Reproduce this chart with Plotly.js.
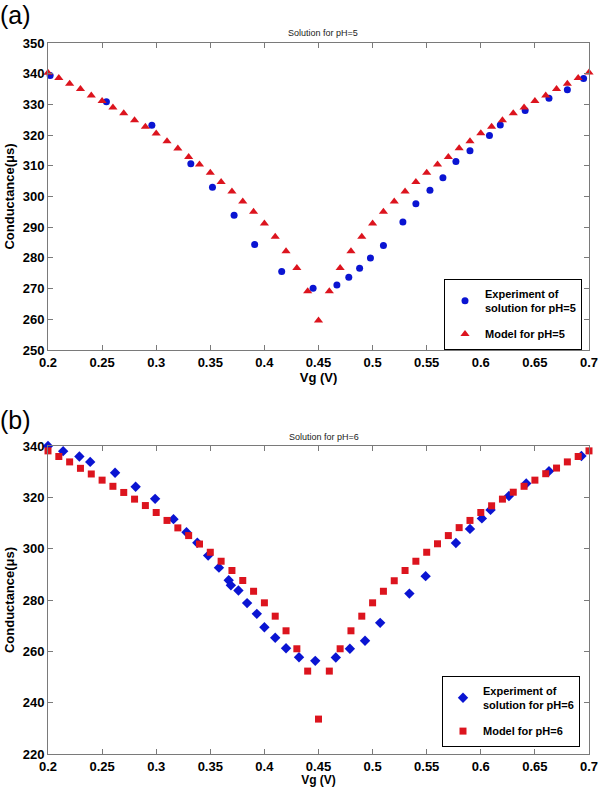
<!DOCTYPE html>
<html>
<head>
<meta charset="utf-8">
<script src="https://cdn.plot.ly/plotly-3.0.1.min.js"></script>
<style>html,body{margin:0;padding:0;background:#fff;}#chart{width:600px;height:787px;}</style>
</head>
<body>
<div id="chart"></div>
<script>
// ---- Panel (a): pH = 5 ----
const modelX = [0.20,0.21,0.22,0.23,0.24,0.25,0.26,0.27,0.28,0.29,0.30,0.31,0.32,0.33,0.34,0.35,0.36,0.37,0.38,0.39,0.40,0.41,0.42,0.43,0.44,0.45,0.46,0.47,0.48,0.49,0.50,0.51,0.52,0.53,0.54,0.55,0.56,0.57,0.58,0.59,0.60,0.61,0.62,0.63,0.64,0.65,0.66,0.67,0.68,0.69,0.70];
const model5Y = [340.3,338.6,336.7,335.0,332.9,331.1,329.0,327.1,324.8,322.7,320.5,318.0,315.6,312.9,310.4,307.7,304.7,301.6,298.4,295.0,291.2,286.9,282.2,276.7,269.1,259.6,269.1,276.7,282.2,286.9,291.2,295.0,298.4,301.6,304.7,307.7,310.4,312.9,315.7,318.0,320.6,322.7,324.8,327.1,329.0,331.1,332.9,335.0,336.7,338.6,340.4];
const exp5X = [0.202,0.254,0.296,0.332,0.352,0.372,0.391,0.416,0.445,0.467,0.478,0.488,0.498,0.510,0.528,0.540,0.553,0.565,0.577,0.590,0.608,0.618,0.641,0.663,0.680,0.695];
const exp5Y = [339.4,330.9,323.2,310.7,303.0,293.9,284.4,275.6,270.1,271.2,273.7,276.6,280.0,284.0,291.7,297.6,302.0,306.1,311.4,314.9,319.9,323.3,328.0,332.0,334.8,338.4];

// ---- Panel (b): pH = 6 ----
const model6Y = [338.1,335.9,333.8,331.3,329.1,326.7,324.3,321.9,319.3,316.8,314.1,311.0,308.1,305.1,301.8,298.6,295.1,291.5,287.6,283.4,278.9,273.7,268.0,261.0,252.3,233.6,252.3,261.0,268.0,273.7,278.9,283.4,287.5,291.5,295.1,298.6,301.9,305.1,308.2,311.0,314.1,316.7,319.3,322.0,324.3,326.7,329.2,331.4,333.8,335.9,338.1];
const exp6X = [0.200,0.214,0.229,0.239,0.262,0.281,0.299,0.316,0.328,0.338,0.348,0.358,0.367,0.369,0.376,0.384,0.393,0.400,0.410,0.420,0.432,0.447,0.466,0.479,0.493,0.507,0.534,0.549,0.577,0.590,0.601,0.609,0.626,0.642,0.663,0.693];
const exp6Y = [340.0,338.0,335.9,333.8,329.6,324.1,319.4,311.5,306.4,302.3,297.3,292.6,287.7,285.7,283.7,278.8,274.6,269.4,265.3,261.2,257.7,256.3,257.6,261.0,264.1,271.1,282.5,289.3,302.2,307.7,311.8,315.1,320.5,325.4,330.2,336.1];

// ---- Tick labels ----
const xTickVals = [0.2,0.25,0.3,0.35,0.4,0.45,0.5,0.55,0.6,0.65,0.7];
const xTickText = ["0.2","0.25","0.3","0.35","0.4","0.45","0.5","0.55","0.6","0.65","0.7"];
const yTicksA = [250,260,270,280,290,300,310,320,330,340,350];
const yTicksB = [220,240,260,280,300,320,340];

const BLUE = '#0a14d2';
const RED = '#dc141e';
const FONT = 'Liberation Sans, Arial, sans-serif';

const traces = [
  {x: exp5X, y: exp5Y, mode: 'markers', type: 'scatter', name: '<b>Experiment of<br>solution for pH=5</b>',
   marker: {symbol: 'circle', size: 7, color: BLUE}, xaxis: 'x', yaxis: 'y', legend: 'legend', legendgroup: 'a1', cliponaxis: false},
  {x: modelX, y: model5Y, mode: 'markers', type: 'scatter', name: '<b>Model for pH=5</b>',
   marker: {symbol: 'triangle-up', size: 8, color: RED}, xaxis: 'x', yaxis: 'y', legend: 'legend', legendgroup: 'a2', cliponaxis: false},
  {x: exp6X, y: exp6Y, mode: 'markers', type: 'scatter', name: '<b>Experiment of<br>solution for pH=6</b>',
   marker: {symbol: 'diamond', size: 8, color: BLUE}, xaxis: 'x2', yaxis: 'y2', legend: 'legend2', legendgroup: 'b1', cliponaxis: false},
  {x: modelX, y: model6Y, mode: 'markers', type: 'scatter', name: '<b>Model for pH=6</b>',
   marker: {symbol: 'square', size: 7, color: RED}, xaxis: 'x2', yaxis: 'y2', legend: 'legend2', legendgroup: 'b2', cliponaxis: false}
];

const axisCommon = {
  showline: true, linecolor: '#7a7a7a', linewidth: 1, mirror: 'ticks',
  ticks: 'inside', ticklen: 5, tickcolor: '#7a7a7a', showgrid: false, zeroline: false,
  tickfont: {family: FONT, size: 13, color: '#000', weight: 'bold'}
};
const xDomain = [48/600, 589/600];

const legendCommon = {
  xanchor: 'left', yanchor: 'top', bgcolor: '#fff', bordercolor: '#000', borderwidth: 1,
  font: {family: FONT, size: 11, color: '#000'}, tracegroupgap: 8, itemwidth: 30, traceorder: 'grouped'
};

const layout = {
  width: 600, height: 787,
  margin: {l: 0, r: 0, t: 0, b: 0},
  paper_bgcolor: '#fff', plot_bgcolor: '#fff',
  font: {family: FONT},
  xaxis: Object.assign({}, axisCommon, {domain: xDomain, anchor: 'y', range: [0.2, 0.7],
    tickvals: xTickVals, ticktext: xTickText,
    title: {text: '<b>Vg (V)</b>', font: {family: FONT, size: 13, color: '#000'}, standoff: 2}}),
  yaxis: Object.assign({}, axisCommon, {domain: [1-350/787, 1-43/787], anchor: 'x', range: [250, 350],
    tickvals: yTicksA,
    title: {text: '<b>Conductance(μs)</b>', font: {family: FONT, size: 13, color: '#000'}, standoff: 5}}),
  xaxis2: Object.assign({}, axisCommon, {domain: xDomain, anchor: 'y2', range: [0.2, 0.7],
    tickvals: xTickVals, ticktext: xTickText,
    title: {text: '<b>Vg (V)</b>', font: {family: FONT, size: 12, color: '#000'}, standoff: 1}}),
  yaxis2: Object.assign({}, axisCommon, {domain: [1-754/787, 1-446/787], anchor: 'x2', range: [220, 340],
    tickvals: yTicksB,
    title: {text: '<b>Conductance(μs)</b>', font: {family: FONT, size: 13, color: '#000'}, standoff: 5}}),
  legend: Object.assign({}, legendCommon, {x: 444/600, y: 1-279/787}),
  legend2: Object.assign({}, legendCommon, {x: 442/600, y: 1-676/787}),
  annotations: [
    {text: '(a)', x: 0, y: 1, xref: 'paper', yref: 'paper', xanchor: 'left', yanchor: 'top',
     showarrow: false, font: {family: FONT, size: 25, color: '#000'}, xshift: -2, yshift: 1},
    {text: '(b)', x: 0, y: 1-404/787, xref: 'paper', yref: 'paper', xanchor: 'left', yanchor: 'top',
     showarrow: false, font: {family: FONT, size: 25, color: '#000'}, xshift: -2},
    {text: 'Solution for pH=5', x: 323/600, y: 1-33/787, xref: 'paper', yref: 'paper',
     xanchor: 'center', yanchor: 'middle', showarrow: false, font: {family: FONT, size: 9, color: '#222'}},
    {text: 'Solution for pH=6', x: 324/600, y: 1-437/787, xref: 'paper', yref: 'paper',
     xanchor: 'center', yanchor: 'middle', showarrow: false, font: {family: FONT, size: 9, color: '#222'}}
  ]
};

Plotly.newPlot('chart', traces, layout, {displayModeBar: false, staticPlot: true});
</script>
</body>
</html>
